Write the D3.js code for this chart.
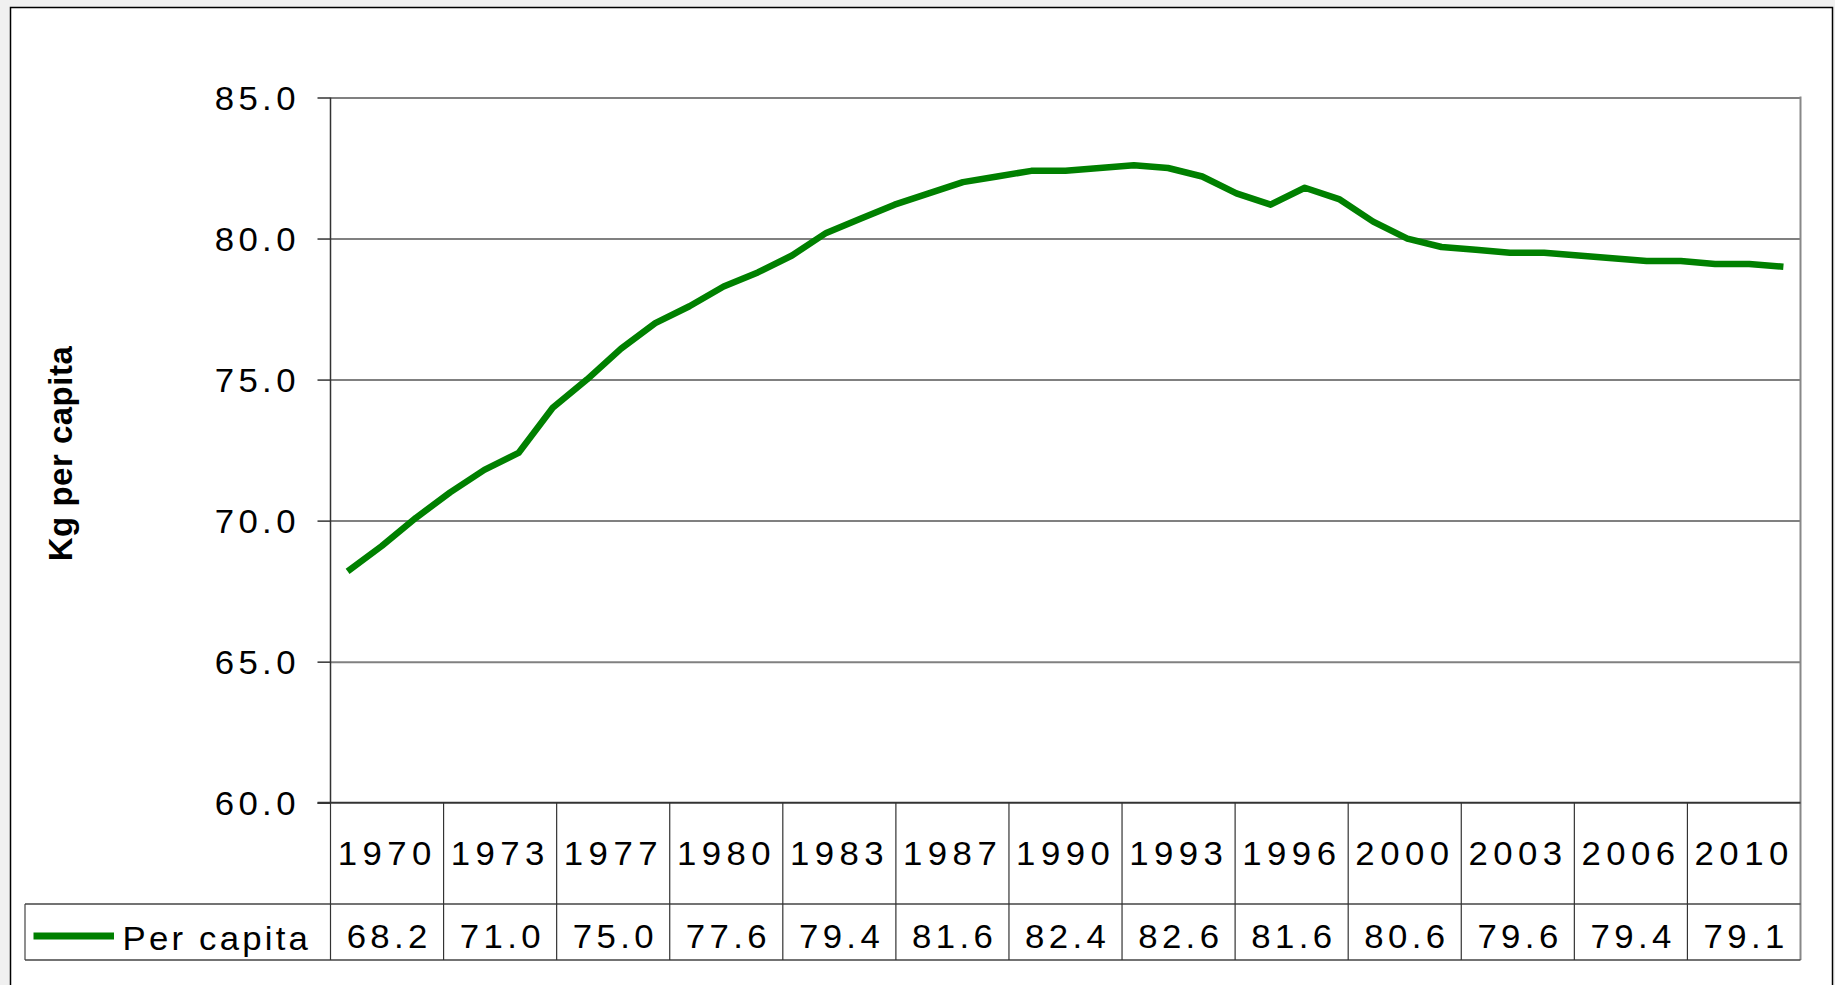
<!DOCTYPE html>
<html>
<head>
<meta charset="utf-8">
<script src="https://cdn.jsdelivr.net/npm/d3@7/dist/d3.min.js"></script>
<style>
  html, body { margin: 0; padding: 0; background: #f0f0f0; }
  svg { display: block; }
  text { font-family: "Liberation Sans", Arial, sans-serif; fill: #000; }
</style>
</head>
<body>
<svg id="chart" width="1835" height="985"></svg>
<script>
// ---- data ----
const years = d3.range(1970, 2013); // annual series 1970..2012
const perCapita = [68.2, 69.1, 70.1, 71.0, 71.8, 72.4, 74.0, 75.0, 76.1, 77.0,
                   77.6, 78.3, 78.8, 79.4, 80.2, 80.7, 81.2, 81.6, 82.0, 82.2,
                   82.4, 82.4, 82.5, 82.6, 82.5, 82.2, 81.6, 81.2, 81.8, 81.4,
                   80.6, 80.0, 79.7, 79.6, 79.5, 79.5, 79.4, 79.3, 79.2, 79.2,
                   79.1, 79.1, 79.0];
const tableYears = ["1970","1973","1977","1980","1983","1987","1990","1993","1996","2000","2003","2006","2010"];
const tableValues = [68.2, 71.0, 75.0, 77.6, 79.4, 81.6, 82.4, 82.6, 81.6, 80.6, 79.6, 79.4, 79.1];
const yTicks = [60, 65, 70, 75, 80, 85];
const seriesName = "Per capita";
const yTitle = "Kg per capita";

// ---- layout ----
const svg = d3.select("#chart");
const L = 330.5, R = 1800.5, T = 97.5, B = 802.7;
const rowMid = 904, rowBot = 960, legendLeft = 25;
const FS = 32.5, SX = 1.07, LS = 4.1;      // font size, horizontal glyph stretch, letter spacing
const LSE = LS * SX;

// frame
svg.append("rect").attr("x", 10.5).attr("y", 7.5).attr("width", 1822).attr("height", 1000)
  .attr("fill", "#fff").attr("stroke", "#000").attr("stroke-width", 1.5);

const x = d3.scaleBand().domain(years).range([L, R]);
const xc = d3.scaleBand().domain(tableYears).range([L, R]);
const y = d3.scaleLinear().domain([60, 85]).range([B, T]);

// gridlines
const grid = svg.append("g").attr("transform", `translate(${L},0)`)
  .call(d3.axisLeft(y).tickValues(yTicks.filter(d => d > 60)).tickSize(-(R - L)).tickFormat(""));
grid.select(".domain").remove();
grid.selectAll("line").attr("stroke", "#808080").attr("stroke-width", 2);

// right border of plot
svg.append("line").attr("x1", R).attr("x2", R).attr("y1", T - 1).attr("y2", rowBot)
  .attr("stroke", "#888").attr("stroke-width", 2);

// y axis
const yAxis = svg.append("g").attr("transform", `translate(${L},0)`)
  .call(d3.axisLeft(y).tickValues(yTicks).tickSize(13).tickPadding(0).tickFormat(d3.format(".1f")));
yAxis.select(".domain").attr("stroke", "#333").attr("stroke-width", 1.5)
  .attr("d", `M0,${y(85)}V${y(60)}`);
yAxis.selectAll(".tick line").attr("stroke", "#333").attr("stroke-width", 1.5);
yAxis.selectAll(".tick text")
  .attr("x", 0).attr("y", 0).attr("dy", null)
  .attr("transform", `translate(${-(L - 294 - LSE - 1.5)},11.5) scale(${SX},1)`)
  .attr("text-anchor", "end")
  .style("font-size", FS + "px").style("letter-spacing", LS + "px")
  .style("font-family", '"Liberation Sans", Arial, sans-serif').attr("fill", "#000");

// bottom axis line (60)
svg.append("line").attr("x1", L - 13).attr("x2", R).attr("y1", B).attr("y2", B)
  .attr("stroke", "#333").attr("stroke-width", 2);

// data table
const tbl = svg.append("g");
tbl.append("line").attr("x1", legendLeft).attr("x2", R).attr("y1", rowMid).attr("y2", rowMid)
  .attr("stroke", "#444").attr("stroke-width", 1.5);
tbl.append("line").attr("x1", legendLeft).attr("x2", R).attr("y1", rowBot).attr("y2", rowBot)
  .attr("stroke", "#444").attr("stroke-width", 1.5);
tbl.append("line").attr("x1", legendLeft).attr("x2", legendLeft).attr("y1", rowMid).attr("y2", rowBot)
  .attr("stroke", "#444").attr("stroke-width", 1.2);
tbl.selectAll("line.col").data(tableYears).join("line").attr("class", "col")
  .attr("x1", d => xc(d)).attr("x2", d => xc(d)).attr("y1", B).attr("y2", rowBot)
  .attr("stroke", "#333").attr("stroke-width", 1.2);

const cx = d => xc(d) + xc.bandwidth() / 2 + LSE / 2;
tbl.selectAll("text.yr").data(tableYears).join("text").attr("class", "yr")
  .attr("transform", d => `translate(${cx(d) - 2},865) scale(${SX},1)`)
  .attr("text-anchor", "middle").style("font-size", FS + "px").style("letter-spacing", (LS + 1) + "px")
  .text(d => d);
tbl.selectAll("text.val").data(tableValues).join("text").attr("class", "val")
  .attr("transform", (d, i) => `translate(${cx(tableYears[i])},947.5) scale(${SX},1)`)
  .attr("text-anchor", "middle").style("font-size", FS + "px").style("letter-spacing", LS + "px")
  .text(d => d3.format(".1f")(d));

// legend key
tbl.append("line").attr("x1", 33.5).attr("x2", 114).attr("y1", 936).attr("y2", 936)
  .attr("stroke", "#008000").attr("stroke-width", 7);
tbl.append("text").attr("transform", `translate(122.5,949.5) scale(${SX},1)`)
  .style("font-size", FS + "px").style("letter-spacing", "3px").text(seriesName);

// y title
svg.append("text").attr("transform", "translate(71.5,453.5) rotate(-90)")
  .attr("text-anchor", "middle").style("font-size", "33px").style("font-weight", "bold")
  .style("letter-spacing", "0.5px").text(yTitle);

// line
const line = d3.line().x((d, i) => x(years[i]) + x.bandwidth() / 2).y(d => y(d));
svg.append("path").datum(perCapita).attr("d", line)
  .attr("fill", "none").attr("stroke", "#008000").attr("stroke-width", 6.5)
  .attr("stroke-linejoin", "round");
</script>
</body>
</html>
